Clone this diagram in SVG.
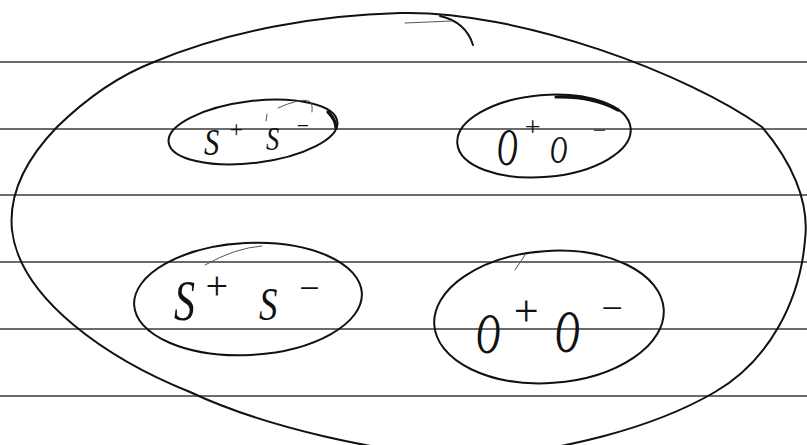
<svg xmlns="http://www.w3.org/2000/svg" width="807" height="445" viewBox="0 0 807 445">
<style>
.rule{stroke:#3a3a3a;stroke-width:1.3;fill:none}
.ink{stroke:#111;stroke-width:2;fill:none;stroke-linecap:round;stroke-linejoin:round}
.thick{stroke:#111;stroke-width:3.2;fill:none;stroke-linecap:round}
.faint{stroke:#555;stroke-width:1;fill:none;stroke-linecap:round}
.lbl{font-family:"Liberation Serif","DejaVu Serif",serif;font-style:italic;fill:#111}
</style>
<rect width="807" height="445" fill="#fff"/>
<g id="ruled-lines">
<line class="rule" x1="0" y1="62" x2="807" y2="62"/>
<line class="rule" x1="0" y1="129" x2="807" y2="129"/>
<line class="rule" x1="0" y1="195" x2="807" y2="195"/>
<line class="rule" x1="0" y1="262" x2="807" y2="262"/>
<line class="rule" x1="0" y1="329" x2="807" y2="329"/>
<line class="rule" x1="0" y1="396" x2="807" y2="396"/>
</g>
<g id="connectors"></g>
<g id="outer-set">
<path class="ink" d="M 400 13 C 520 10, 690 75, 762 127 C 790 160, 810 200, 805 240 C 800 300, 770 360, 715 392 C 650 430, 560 450, 480 458 C 380 455, 260 425, 190 392 C 110 360, 20 300, 12 230 C 8 190, 30 155, 57 127 C 90 95, 120 75, 154 62 C 230 30, 320 15, 400 13 Z"/>
<path class="ink" d="M 440 16 Q 466 22 473 45"/>
<path class="faint" d="M 405 23 L 452 21"/>
</g>
<g id="set-s-top">
<ellipse class="ink" cx="253" cy="132" rx="85" ry="31" transform="rotate(-7 253 132)"/>
<path class="thick" d="M 328 112 Q 336 120 336 128"/>
<path class="faint" d="M 278 108 Q 300 98 309 101 Q 313 104 312 112"/>
<path class="faint" d="M 267 114 L 266 121"/>
<text class="lbl" font-size="38" transform="translate(204 155) scale(0.8 1)">S</text>
<text class="lbl" x="228" y="137" font-size="24">+</text>
<text class="lbl" font-size="33" transform="translate(266 150) scale(0.8 1)">S</text>
<text class="lbl" x="295" y="133" font-size="22">−</text>
</g>
<g id="set-o-top">
<ellipse class="ink" cx="544" cy="136" rx="87" ry="41" transform="rotate(-5 544 136)"/>
<path class="thick" d="M 556 97 Q 592 96 618 110"/>
<text class="lbl" font-size="52" transform="translate(497 165) scale(0.55 1)">O</text>
<text class="lbl" x="523" y="136" font-size="28">+</text>
<text class="lbl" font-size="40" transform="translate(550 163) scale(0.6 1)">O</text>
<text class="lbl" x="591" y="138" font-size="24">−</text>
</g>
<g id="set-s-bottom">
<ellipse class="ink" cx="248" cy="299" rx="114" ry="56" transform="rotate(-3 248 299)"/>
<path class="faint" d="M 205 265 Q 235 248 262 246"/>
<text class="lbl" font-size="56" transform="translate(174 320) scale(0.75 1)">S</text>
<text class="lbl" x="203" y="299" font-size="40">+</text>
<text class="lbl" font-size="46" transform="translate(259 320) scale(0.8 1)">S</text>
<text class="lbl" x="297" y="300" font-size="36">−</text>
</g>
<g id="set-o-bottom">
<ellipse class="ink" cx="549" cy="317" rx="115" ry="66" transform="rotate(-4 549 317)"/>
<path class="faint" d="M 515 270 L 525 255"/>
<text class="lbl" font-size="56" transform="translate(476 353) scale(0.6 1)">O</text>
<text class="lbl" x="511" y="326" font-size="44">+</text>
<text class="lbl" font-size="62" transform="translate(555 352) scale(0.55 1)">O</text>
<text class="lbl" x="599" y="321" font-size="38">−</text>
</g>
</svg>
